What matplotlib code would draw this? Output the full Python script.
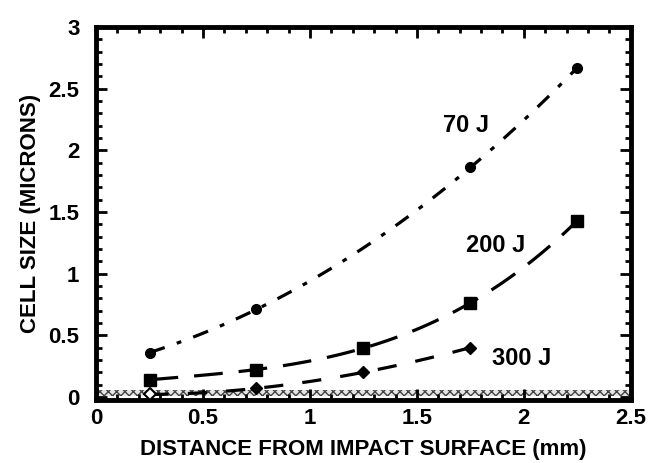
import matplotlib.pyplot as plt
import numpy as np
from matplotlib.ticker import MultipleLocator

# distance from impact surface (mm)
x_70 = [0.25, 0.75, 1.75, 2.25]
y_70 = [0.36, 0.71, 1.86, 2.67]

x_200 = [0.25, 0.75, 1.25, 1.75, 2.25]
y_200 = [0.14, 0.22, 0.40, 0.76, 1.43]

x_300 = [0.25, 0.75, 1.25, 1.75]
y_300 = [0.02, 0.07, 0.20, 0.40]

labels = ["70 J", "200 J", "300 J"]

plt.rcParams['font.family'] = ['Liberation Sans', 'DejaVu Sans']
plt.rcParams['font.weight'] = 'bold'

fig = plt.figure(figsize=(6.49, 4.63), dpi=100)
ax = fig.add_axes([0.148, 0.136, 0.824, 0.806])


def trend(xs, ys, x0, x1):
    # cubic trendline through the measured points
    c = np.polyfit(xs, ys, 3)
    xx = np.linspace(x0, x1, 100)
    return xx, np.polyval(c, xx)


# hatched band along zero
ax.axhspan(0.01, 0.055, facecolor='#e6e6e6', edgecolor='#444444', hatch='xxxx', lw=0, zorder=1)

xx, yy = trend(x_70, y_70, 0.25, 2.25)
ax.plot(xx, yy, color='black', lw=2.3, dashes=(5, 4, 1.5, 4), zorder=3)
ax.plot(x_70, y_70, 'o', color='black', ms=7, zorder=4)

xx, yy = trend(x_200, y_200, 0.25, 2.25)
ax.plot(xx, yy, color='black', lw=2.3, dashes=(9, 5), zorder=3)
ax.plot(x_200, y_200, 's', color='black', ms=9, zorder=4)

xx, yy = trend(x_300, y_300, 0.25, 1.75)
ax.plot(xx, yy, color='black', lw=2.3, dashes=(6, 6), zorder=3)
ax.plot(x_300[1:], y_300[1:], 'D', color='black', ms=6, zorder=4)
ax.plot(x_300[:1], y_300[:1], 'D', mfc='white', mec='black', mew=1.5, ms=6, zorder=4)

ax.text(1.73, 2.2, labels[0], fontsize=17, fontweight='bold', ha='center', va='center')
ax.text(1.87, 1.23, labels[1], fontsize=17, fontweight='bold', ha='center', va='center')
ax.text(1.99, 0.31, labels[2], fontsize=17, fontweight='bold', ha='center', va='center')

ax.set_xlim(0, 2.5)
ax.set_ylim(-0.025, 3)
ax.set_xticks([0, 0.5, 1, 1.5, 2, 2.5])
ax.set_xticklabels(['0', '0.5', '1', '1.5', '2', '2.5'])
ax.set_yticks([0, 0.5, 1, 1.5, 2, 2.5, 3])
ax.set_yticklabels(['0', '0.5', '1', '1.5', '2', '2.5', '3'])
ax.xaxis.set_minor_locator(MultipleLocator(0.1))
ax.yaxis.set_minor_locator(MultipleLocator(0.1))
ax.tick_params(which='both', direction='in', top=True, right=True, width=2)
ax.tick_params(which='major', length=8, labelsize=16)
ax.tick_params(axis='x', which='major', pad=6)
ax.tick_params(axis='y', which='major', pad=12)
ax.tick_params(which='minor', length=4)
for s in ax.spines.values():
    s.set_linewidth(3.5)

ax.set_xlabel('DISTANCE FROM IMPACT SURFACE (mm)', fontsize=16, fontweight='bold', labelpad=7)
ax.set_ylabel('CELL SIZE (MICRONS)', fontsize=16, fontweight='bold', labelpad=5)

fig.savefig('out.png', dpi=100)
